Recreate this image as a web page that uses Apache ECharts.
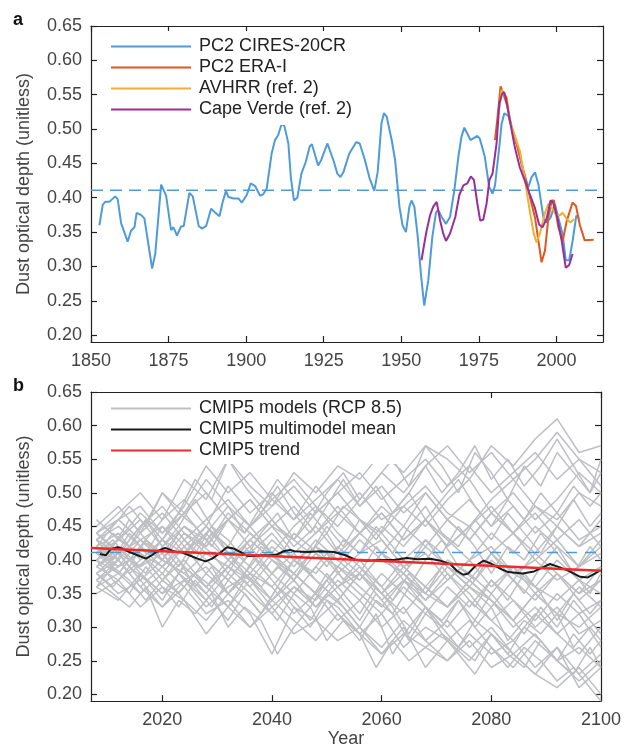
<!DOCTYPE html>
<html><head><meta charset="utf-8">
<script src="https://cdn.jsdelivr.net/npm/echarts@6/dist/echarts.min.js"></script>
<style>html,body{margin:0;padding:0;background:#fff}#c{width:624px;height:749px}</style>
</head><body><div id="c"></div>
<script>
// ---------- Panel a data ----------
const blueYears = [1852.7,1853.8,1854.6,1855.9,1857.8,1858.6,1859.7,1861.8,1862.9,1864.0,1864.7,1866.1,1867.2,1868.3,1869.7,1870.7,1872.6,1874.2,1875.8,1876.6,1877.7,1879.0,1879.9,1881.7,1882.8,1884.7,1885.8,1887.1,1888.7,1890.1,1891.4,1892.4,1893.5,1894.3,1895.9,1897.5,1898.6,1900.2,1901.5,1902.9,1904.5,1905.5,1906.6,1908.2,1909.3,1910.3,1911.4,1912.3,1913.6,1914.4,1915.4,1916.5,1917.8,1919.2,1920.5,1921.2,1923.2,1924.2,1926.2,1928.3,1929.4,1930.4,1931.4,1933.2,1935.5,1936.6,1938.2,1939.8,1941.3,1942.4,1943.6,1944.4,1945.3,1946.9,1948.0,1949.4,1950.4,1951.5,1952.6,1953.3,1954.2,1955.3,1956.4,1957.4,1958.7,1960.0,1961.2,1961.9,1963.0,1964.4,1965.7,1967.1,1968.4,1969.4,1970.3,1972.3,1974.5,1975.3,1976.9,1978.3,1979.4,1980.2,1981.7,1982.3,1983.2,1984.5,1986.1,1987.7,1989.3,1990.9,1992.0,1993.1,1994.2,1995.8,1996.8,1998.1,1999.5,2000.6,2002.0,2003.0,2004.1,2005.2,2006.4,2007.3];
const blueVals = [0.360,0.390,0.394,0.394,0.402,0.398,0.363,0.336,0.352,0.357,0.378,0.375,0.370,0.338,0.297,0.318,0.419,0.403,0.353,0.357,0.345,0.358,0.359,0.407,0.402,0.359,0.355,0.359,0.384,0.378,0.373,0.393,0.410,0.401,0.399,0.399,0.393,0.404,0.421,0.417,0.403,0.405,0.413,0.464,0.484,0.491,0.507,0.505,0.479,0.430,0.396,0.400,0.435,0.452,0.475,0.478,0.447,0.455,0.479,0.452,0.435,0.430,0.438,0.464,0.481,0.479,0.456,0.428,0.410,0.438,0.508,0.523,0.518,0.484,0.455,0.387,0.360,0.350,0.387,0.396,0.387,0.343,0.285,0.243,0.280,0.343,0.379,0.382,0.372,0.362,0.372,0.411,0.460,0.489,0.502,0.484,0.490,0.486,0.460,0.416,0.406,0.418,0.479,0.507,0.523,0.519,0.495,0.471,0.439,0.415,0.430,0.437,0.419,0.371,0.364,0.371,0.391,0.371,0.347,0.309,0.309,0.337,0.374,0.370];

const eraYears = [1980.2,1981.0,1982.0,1982.9,1984.0,1985.6,1987.2,1988.8,1990.4,1992.0,1993.1,1994.2,1995.2,1996.3,1997.4,1998.5,1999.2,2000.6,2002.0,2003.3,2005.2,2006.3,2007.5,2009.1,2012.0];
const eraVals = [0.484,0.517,0.562,0.551,0.536,0.502,0.478,0.449,0.422,0.391,0.371,0.337,0.306,0.323,0.371,0.396,0.396,0.357,0.337,0.366,0.393,0.388,0.361,0.338,0.339];

const avhrrYears = [1981.6,1982.3,1983.1,1984.0,1985.0,1986.6,1988.2,1989.8,1991.4,1992.7,1993.6,1994.6,1996.3,1997.4,1998.5,1999.7,2000.9,2002.0,2003.3,2004.5,2005.7];
const avhrrVals = [0.530,0.557,0.551,0.546,0.512,0.490,0.468,0.427,0.381,0.347,0.335,0.347,0.378,0.391,0.386,0.376,0.374,0.378,0.369,0.364,0.369];

const capeYears = [1956.5,1957.4,1958.2,1959.3,1960.3,1961.4,1962.5,1963.5,1964.4,1965.7,1967.4,1968.7,1970.0,1971.3,1972.4,1973.4,1974.5,1975.4,1976.4,1977.5,1978.4,1979.4,1980.7,1981.6,1982.4,1983.1,1983.7,1985.0,1986.6,1988.2,1989.8,1991.4,1993.0,1994.4,1995.5,1996.8,1998.1,1998.9,2000.3,2001.7,2003.0,2004.1,2005.2];
const capeVals = [0.309,0.333,0.353,0.375,0.387,0.394,0.367,0.348,0.337,0.348,0.372,0.404,0.418,0.421,0.431,0.426,0.392,0.367,0.368,0.392,0.426,0.435,0.479,0.537,0.550,0.554,0.546,0.512,0.473,0.444,0.425,0.405,0.386,0.361,0.357,0.369,0.396,0.393,0.371,0.337,0.298,0.302,0.318];

const refLevel = 0.411;

// ---------- Panel b data ----------
const modelYears = [2008,2012,2016,2020,2024,2028,2032,2036,2040,2044,2048,2052,2056,2060,2064,2068,2072,2076,2080,2084,2088,2092,2096,2100];
const modelRuns = [
 [.44,.47,.50,.46,.52,.49, .55,.51,.48,.53,.50,.54, .52,.56,.53,.57,.55,.52, .57,.54,.58,.61,.56,.57],
 [.38,.35,.37,.33,.36,.32, .34,.30,.33,.29,.31,.28, .30,.26,.29,.27,.25,.28, .24,.26,.23,.21,.24,.20],
 [.42,.44,.40,.43,.41,.45, .42,.39,.43,.40,.42,.38, .41,.43,.39,.41,.37,.40, .42,.38,.40,.37,.39,.41],
 [.40,.38,.42,.39,.36,.40, .37,.41,.38,.35,.39,.36, .38,.34,.37,.35,.33,.36, .34,.31,.35,.32,.30,.33],
 [.43,.46,.48,.44,.47,.50, .46,.49,.45,.48,.44,.47, .50,.46,.48,.45,.49,.52, .47,.50,.46,.49,.53,.50],
 [.37,.40,.36,.39,.42,.38, .35,.39,.36,.40,.37,.34, .38,.35,.32,.36,.33,.37, .34,.30,.33,.29,.32,.27],
 [.41,.39,.43,.45,.41,.44, .40,.43,.46,.42,.45,.41, .44,.47,.43,.46,.42,.45, .48,.44,.41,.45,.42,.44],
 [.39,.42,.38,.35,.39,.36, .33,.37,.34,.38,.35,.31, .34,.30,.33,.28,.31,.27, .30,.26,.29,.25,.27,.24],
 [.45,.48,.44,.50,.47,.52, .48,.45,.49,.46,.51,.47, .44,.48,.45,.50,.46,.43, .47,.44,.48,.45,.42,.46],
 [.36,.34,.38,.35,.37,.33, .36,.38,.34,.37,.33,.36, .39,.35,.38,.34,.37,.40, .36,.39,.35,.38,.34,.37],
 [.42,.40,.44,.47,.43,.46, .49,.45,.48,.51,.47,.50, .53,.49,.52,.55,.51,.54, .50,.53,.56,.52,.55,.53],
 [.38,.41,.37,.40,.38,.35, .39,.37,.33,.36,.34,.38, .35,.32,.36,.33,.30,.34, .31,.28,.32,.29,.26,.30],
 [.41,.43,.46,.42,.45,.43, .40,.44,.41,.38,.42,.40, .37,.41,.39,.36,.40,.38, .35,.39,.36,.34,.37,.35],
 [.44,.41,.45,.48,.44,.42, .46,.49,.45,.43,.47,.50, .46,.44,.48,.51,.47,.45, .49,.52,.48,.46,.50,.48],
 [.35,.37,.33,.36,.34,.31, .35,.32,.26,.33,.31,.34, .30,.27,.31,.28,.25,.29, .26,.28,.24,.27,.23,.26],
 [.40,.43,.41,.39,.43,.40, .37,.41,.44,.40,.38,.42, .39,.36,.40,.43,.39,.36, .40,.37,.41,.38,.35,.39],
 [.43,.45,.42,.46,.49,.45, .51,.47,.50,.46,.49,.52, .48,.51,.47,.50,.46,.49, .45,.48,.44,.47,.43,.45],
 [.37,.39,.41,.37,.40,.36, .39,.42,.38,.41,.37,.34, .38,.35,.39,.36,.33,.37, .34,.31,.35,.32,.36,.33],
 [.42,.39,.41,.38,.42,.45, .41,.38,.42,.39,.43,.40, .44,.41,.45,.42,.46,.43, .47,.44,.40,.43,.39,.42],
 [.39,.37,.40,.43,.39,.36, .40,.37,.41,.38,.35,.39, .36,.33,.37,.34,.38,.35, .31,.34,.30,.33,.29,.31],
 [.46,.43,.47,.44,.48,.54, .50,.53,.49,.52,.48,.45, .49,.53,.50,.54,.57,.53, .56,.52,.55,.59,.55,.51],
 [.40,.42,.39,.41,.37,.39, .35,.38,.36,.32,.35,.33, .29,.32,.27,.30,.28,.31, .27,.24,.28,.25,.22,.25],
 [.41,.38,.42,.40,.44,.41, .39,.43,.40,.37,.41,.39, .43,.40,.38,.42,.39,.37, .41,.38,.36,.40,.37,.39],
 [.38,.40,.36,.33,.37,.34, .38,.35,.32,.36,.33,.37, .34,.38,.35,.32,.36,.33, .37,.34,.31,.35,.32,.34],
 [.43,.41,.39,.43,.47,.43, .46,.42,.45,.41,.44,.48, .44,.47,.43,.46,.42,.45, .41,.44,.47,.43,.46,.42],
 [.36,.38,.35,.38,.34,.29, .33,.30,.34,.31,.28,.32, .29,.26,.30,.24,.28,.25, .29,.26,.23,.27,.21,.24],
 [.44,.46,.43,.41,.45,.42, .47,.44,.41,.45,.48,.44, .41,.45,.42,.46,.43,.40, .44,.41,.45,.42,.39,.43],
 [.39,.41,.43,.40,.38,.41, .39,.36,.40,.38,.35,.39, .37,.41,.38,.35,.39,.36, .33,.37,.34,.38,.35,.37]
];
const modelYears2 = [2008,2011,2014,2017,2020,2023,2026,2029,2032,2035,2038,2041,2044,2047,2050,2053,2056,2059,2062,2065,2068,2071,2074,2077,2080,2083,2086,2089,2092,2095,2098,2100];
const modelRuns2 = [
 [.37,.35,.33,.36,.30,.34,.32,.35, .30,.33,.31,.26,.30,.33,.28,.31, .29,.24,.28,.25,.27,.29,.26,.23, .27,.24,.27,.25,.22,.24,.21,.19],
 [.42,.45,.48,.45,.50,.47,.52,.49, .55,.51,.48,.52,.49,.46,.50,.53, .49,.52,.55,.51,.57,.54,.50,.56, .53,.49,.54,.51,.56,.53,.50,.55],
 [.40,.42,.39,.43,.41,.38,.42,.45, .41,.38,.42,.40,.37,.41,.44,.40, .38,.42,.39,.36,.40,.43,.39,.37, .41,.38,.35,.39,.42,.38,.35,.38],
 [.38,.36,.39,.37,.34,.38,.36,.33, .37,.35,.32,.36,.34,.31,.35,.33, .30,.34,.32,.28,.32,.30,.27,.31, .29,.26,.30,.28,.25,.29,.26,.28],
 [.41,.44,.42,.46,.43,.47,.45,.42, .46,.44,.48,.45,.43,.47,.44,.48, .46,.43,.47,.50,.46,.49,.52,.48, .45,.49,.46,.50,.47,.51,.48,.50],
 [.39,.41,.38,.40,.37,.40,.36,.39, .35,.38,.36,.39,.37,.34,.38,.35, .32,.36,.33,.29,.33,.31,.34,.30, .33,.28,.31,.29,.32,.27,.30,.28],
 [.43,.40,.44,.41,.45,.43,.40,.44, .42,.46,.43,.40,.44,.42,.39,.43, .41,.45,.42,.39,.43,.41,.45,.42, .38,.42,.40,.44,.41,.38,.42,.40],
 [.36,.39,.37,.34,.37,.35,.38,.36, .33,.37,.34,.31,.35,.33,.37,.34, .31,.35,.32,.36,.33,.30,.34,.31, .35,.32,.29,.33,.30,.34,.31,.29],
 [.42,.39,.43,.46,.42,.45,.49,.45, .48,.44,.47,.51,.47,.44,.48,.52, .48,.51,.47,.50,.54,.50,.53,.57, .52,.55,.51,.54,.58,.54,.50,.53],
 [.40,.37,.35,.39,.36,.33,.37,.34, .31,.35,.32,.36,.33,.30,.34,.31, .28,.32,.26,.30,.33,.29,.27,.25, .29,.26,.24,.28,.25,.23,.27,.24],
 [.41,.43,.40,.38,.42,.39,.43,.41, .38,.42,.39,.36,.40,.38,.41,.37, .40,.37,.34,.38,.35,.39,.36,.33, .37,.34,.38,.35,.31,.35,.32,.34],
 [.44,.42,.46,.43,.40,.44,.41,.45, .43,.40,.44,.47,.43,.41,.45,.42, .46,.44,.41,.45,.48,.44,.42,.46, .43,.47,.44,.41,.45,.49,.45,.47]
];

const meanYears = [2008.6,2009.7,2010.6,2011.8,2012.7,2013.9,2015.5,2017.0,2017.9,2019.1,2020.5,2021.5,2022.4,2023.6,2024.9,2026.4,2027.9,2029.1,2030.3,2031.8,2033.0,2034.2,2035.5,2036.7,2038.2,2039.7,2040.9,2042.1,2043.3,2044.1,2046.5,2048.9,2051.3,2053.4,2055.3,2057.4,2059.8,2062.2,2064.6,2066.5,2068.9,2070.7,2072.5,2073.7,2074.9,2075.8,2077.1,2078.6,2080.1,2081.9,2083.1,2085.7,2087.8,2090.7,2092.5,2094.3,2096.2,2097.6,2098.7,2099.8];
const meanVals = [0.409,0.407,0.416,0.419,0.417,0.412,0.407,0.402,0.406,0.413,0.418,0.415,0.412,0.411,0.407,0.402,0.398,0.402,0.409,0.419,0.417,0.412,0.406,0.406,0.407,0.407,0.408,0.413,0.415,0.413,0.412,0.413,0.412,0.407,0.400,0.399,0.400,0.400,0.403,0.401,0.402,0.399,0.394,0.384,0.378,0.380,0.391,0.399,0.394,0.386,0.382,0.380,0.383,0.394,0.389,0.383,0.375,0.374,0.379,0.384];

const trendYears = [2007, 2100];
const trendVals = [0.418, 0.384];

// ---------- Axis ticks ----------
const yTicks = [0.20,0.25,0.30,0.35,0.40,0.45,0.50,0.55,0.60,0.65];
const xTicksA = [1850,1875,1900,1925,1950,1975,2000];
const xTicksB = [2020,2040,2060,2080,2100];

const FONT = 'Liberation Sans, Arial, Helvetica, sans-serif';
const AX = '#222';
const LAB = '#444';

function zip(xs, ys){ return xs.map((x,i)=>[x, ys[i]]); }

function xAx(grid, min, max, ticks, pos, labels, name){
  return {type:'value', gridIndex:grid, min:min, max:max, position:pos,
    name: name || '', nameLocation:'middle', nameGap:27,
    nameTextStyle:{fontSize:18, color:LAB, fontFamily:FONT},
    axisLine:{show:true, onZero:false, lineStyle:{color:AX, width:1.2}},
    axisTick:{show:true, inside:true, length:6, customValues:ticks, lineStyle:{color:AX, width:1.2}},
    axisLabel:{show:labels, customValues:ticks, color:LAB, fontSize:18, fontFamily:FONT, margin:10,
      formatter:v=>String(Math.round(v))},
    splitLine:{show:false}};
}
function yAx(grid, ticks, pos, labels){
  return {type:'value', gridIndex:grid, min:0.19, max:0.65, position:pos,
    name: labels ? 'Dust optical depth (unitless)' : '', nameLocation:'middle', nameGap:58,
    nameTextStyle:{fontSize:18, color:LAB, fontFamily:FONT},
    axisLine:{show:true, onZero:false, lineStyle:{color:AX, width:1.2}},
    axisTick:{show:true, inside:true, length:6, customValues:ticks, lineStyle:{color:AX, width:1.2}},
    axisLabel:{show:labels, customValues:ticks, color:LAB, fontSize:18, fontFamily:FONT, margin:9,
      formatter:v=>v.toFixed(2)},
    splitLine:{show:false}};
}

function line(name, data, color, width, xi, z, extra){
  return Object.assign({type:'line', name:name, data:data, xAxisIndex:xi, yAxisIndex:xi,
    symbol:'none', showSymbol:false, silent:true, z:z, color:color,
    lineStyle:{color:color, width:width}}, extra||{});
}

const GREY = '#BEBFC3';
const series = [];
series.push(line('PC2 CIRES-20CR', zip(blueYears, blueVals), '#4D9BD9', 2, 0, 2));
series.push(line('ref a', [[1850, refLevel],[2015, refLevel]], '#4D9BD9', 1.5, 0, 2, {lineStyle:{color:'#4D9BD9', width:1.5, type:[12,7]}}));
series.push(line('PC2 ERA-I', zip(eraYears, eraVals), '#E0581E', 2, 0, 3));
series.push(line('AVHRR (ref. 2)', zip(avhrrYears, avhrrVals), '#F0B030', 2, 0, 4));
series.push(line('Cape Verde (ref. 2)', zip(capeYears, capeVals), '#9A2F99', 2, 0, 5));

modelRuns.forEach(run=>{
  series.push(line('CMIP5 models (RCP 8.5)', zip(modelYears, run), GREY, 1.5, 2, 2));
});
modelRuns2.forEach(run=>{
  series.push(line('CMIP5 models (RCP 8.5)', zip(modelYears2, run), GREY, 1.5, 2, 2));
});
series.push(line('ref b', [[2007, refLevel],[2100, refLevel]], '#4D9BD9', 1.5, 2, 3, {lineStyle:{color:'#4D9BD9', width:1.5, type:[11,8]}}));
series.push(line('CMIP5 multimodel mean', zip(meanYears, meanVals), '#1A1A1A', 2, 2, 4));
series.push(line('CMIP5 trend', zip(trendYears, trendVals), '#EE2B2B', 2.5, 2, 5));

const legendBase = {orient:'vertical', icon:'rect', itemWidth:80, itemHeight:2, itemGap:0, selectedMode:false,
  backgroundColor:'#fff', textStyle:{fontSize:18, color:'#222', fontFamily:FONT, lineHeight:21, padding:[0,0,0,3]}};

const chart = echarts.init(document.getElementById('c'), null, {renderer:'canvas'});
chart.setOption({
  animation:false,
  backgroundColor:'#fff',
  grid:[
    {left:91, top:26, width:512, height:316},
    {left:91, top:392, width:512, height:313}
  ],
  xAxis:[
    xAx(0, 1850, 2015, xTicksA, 'bottom', true),
    xAx(0, 1850, 2015, xTicksA, 'top', false),
    xAx(1, 2007, 2100, xTicksB, 'bottom', true, 'Year'),
    xAx(1, 2007, 2100, xTicksB, 'top', false)
  ],
  yAxis:[
    yAx(0, yTicks, 'left', true),
    yAx(0, yTicks, 'right', false),
    yAx(1, yTicks, 'left', true),
    yAx(1, yTicks, 'right', false)
  ],
  legend:[
    Object.assign({}, legendBase, {left:104, top:31, padding:[5,8,5,7],
      data:['PC2 CIRES-20CR','PC2 ERA-I','AVHRR (ref. 2)','Cape Verde (ref. 2)']}),
    Object.assign({}, legendBase, {left:104, top:393, padding:[5,8,3,7],
      data:['CMIP5 models (RCP 8.5)','CMIP5 multimodel mean','CMIP5 trend']})
  ],
  graphic:[
    {type:'text', left:13, top:11, style:{text:'a', font:'bold 18px ' + FONT, fill:'#111'}},
    {type:'text', left:13, top:377, style:{text:'b', font:'bold 18px ' + FONT, fill:'#111'}}
  ],
  series: series
});
</script>
</body></html>
